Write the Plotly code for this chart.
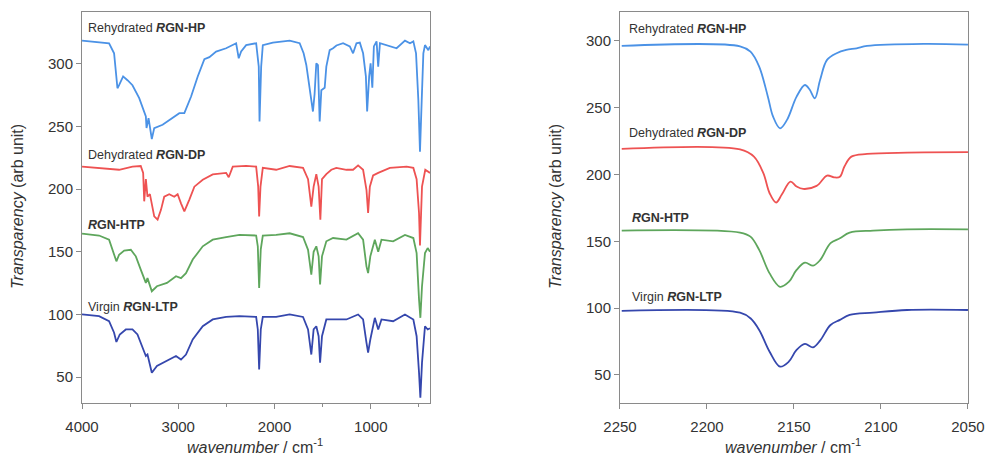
import plotly.graph_objects as go

# ---------------- Left panel data (full spectra) ----------------
hp_wn = [4000, 3719, 3667, 3632, 3615, 3573, 3528, 3476, 3406, 3337, 3330, 3309, 3275, 3250, 3163, 3059,
         2989, 2937, 2867, 2798, 2729, 2677, 2607, 2503, 2399, 2372, 2347, 2295, 2191, 2164, 2156, 2139,
         2122, 2018, 1843, 1739, 1698, 1670, 1618, 1601, 1584, 1566, 1549, 1531, 1514, 1479, 1462, 1427,
         1392, 1357, 1288, 1218, 1184, 1149, 1114, 1080, 1051, 1038, 1017, 1002, 984, 968, 940, 923, 905,
         836, 732, 645, 593, 558, 530, 506, 489, 471, 454, 437, 402, 385]
hp_val = [318.6, 316.5, 308.5, 280.6, 283, 290, 287, 283, 272.7, 258, 248.8, 256.7, 240, 248.8, 251.4, 256.7,
          260.7, 260.7, 274, 290, 303.7, 305.4, 309.8, 312.5, 316.5, 304.5, 310, 315, 316.5, 297.8, 254, 297.8,
          315, 317, 318.6, 316.5, 308.5, 299.2, 271.3, 262, 276, 300.5, 299, 254, 279, 281, 297.8, 311,
          312.5, 314.7, 316.5, 314, 308.5, 316.5, 317, 308.5, 290, 262, 290, 300.5, 281, 314, 318, 297.8, 316.5,
          315, 312.5, 318.6, 316.5, 318, 308.5, 271, 230, 271, 308.5, 315, 311, 314]

dp_wn = [4000, 3719, 3615, 3476, 3390, 3365, 3354, 3337, 3320, 3295, 3250, 3215, 3180, 3146, 3094, 3042,
         3007, 2972, 2937, 2885, 2833, 2746, 2642, 2503, 2476, 2434, 2295, 2191, 2170, 2160, 2146, 2122,
         1983, 1843, 1704, 1652, 1618, 1594, 1566, 1542, 1524, 1507, 1462, 1410, 1358, 1253, 1184, 1132,
         1080, 1045, 1028, 1010, 976, 923, 802, 628, 558, 524, 499, 489, 468, 434, 385]
dp_val = [218, 216, 215.5, 218, 218.5, 213, 190.3, 208, 194, 196, 178.3, 175.7, 183.5, 194, 196, 194,
          196, 188.7, 182.3, 191.7, 202, 207.5, 211.8, 213, 209.5, 218, 218.6, 218, 202, 178.3, 202, 217,
          215.5, 218.5, 217, 208, 186, 202, 212, 202, 175.7, 208, 212, 215.5, 217, 215.5, 215.5, 219,
          215.5, 199.5, 181, 202, 211, 213, 217, 218, 217, 208, 181, 155, 202, 215.5, 213]

htp_wn = [4000, 3823, 3719, 3667, 3643, 3615, 3562, 3493, 3441, 3390, 3337, 3320, 3275, 3222, 3118, 3024,
          2972, 2920, 2850, 2746, 2642, 2503, 2365, 2191, 2174, 2160, 2143, 2122, 1983, 1843, 1704, 1652,
          1618, 1594, 1566, 1542, 1527, 1507, 1462, 1392, 1253, 1132, 1080, 1045, 1028, 1005, 958, 923,
          889, 768, 645, 558, 524, 499, 485, 468, 437, 409, 385]
htp_val = [164.5, 163, 159.7, 149, 142.4, 147.7, 151, 151.6, 146.4, 135.8, 125.2, 129, 118.5, 122.5, 125.2, 130.5,
           129, 133, 143.8, 154.4, 159.7, 161.8, 163.5, 163, 154.4, 121.2, 152, 163, 163.5, 164.8, 161.8, 151.6,
           131.8, 150, 154.4, 146.4, 123.9, 146.4, 158.4, 161, 159.7, 164.8, 159.7, 138.4, 133, 146.4, 159.7, 150,
           159.7, 158.4, 163.5, 161, 149, 112, 97.3, 122.5, 149, 153, 150]

ltp_wn = [4000, 3823, 3719, 3667, 3643, 3608, 3545, 3476, 3424, 3372, 3337, 3320, 3275, 3222, 3118, 3024,
          2972, 2920, 2850, 2746, 2642, 2503, 2365, 2191, 2174, 2160, 2143, 2122, 1983, 1843, 1704, 1652,
          1618, 1594, 1566, 1542, 1527, 1507, 1462, 1392, 1253, 1132, 1080, 1045, 1028, 1005, 958, 923,
          889, 768, 645, 558, 524, 499, 485, 468, 437, 409, 385]
ltp_val = [100, 98.6, 94.6, 85.4, 78, 84, 88, 88, 84, 73.4, 66.8, 68, 53.5, 58.8, 62.8, 66.8,
           64, 68, 80, 90.6, 96, 98, 98.6, 98, 88, 56, 88, 98, 98, 100, 98, 88,
           68, 88, 90.6, 82.6, 61.5, 82.6, 96, 96, 96, 100, 96, 77.5, 69.5, 80, 97.3, 88,
           96, 94.6, 100, 96, 82.6, 53.5, 33.5, 61.5, 90.6, 88, 89]

# ---------------- Right panel data (C≡N region) ----------------
hp_z_wn = [2249, 2181, 2175, 2170, 2165, 2162, 2158, 2154, 2148.5, 2143.7, 2141, 2138, 2135, 2131, 2125.5,
           2120, 2114, 2108, 2075.6, 2050]
hp_z_val = [296.3, 296, 292, 280.8, 258.3, 243.3, 234.6, 240.9, 258.3, 267, 263.6, 257.1, 270.8, 285.8, 290.8,
            293.3, 294.5, 296.3, 297.8, 297.3]

dp_z_wn = [2249, 2181, 2173, 2167.6, 2164, 2160.3, 2157, 2152, 2148.5, 2144.7, 2137, 2131, 2127, 2123.6,
           2121, 2117, 2108, 2085, 2050]
dp_z_val = [219.2, 218.8, 213.4, 201, 186, 179, 185, 194.7, 191, 189.2, 191.5, 199.2, 197.9, 198.3,
            206, 213.4, 215.4, 216.4, 216.7]

htp_z_wn = [2249, 2181, 2175, 2170, 2164, 2158, 2153, 2148.5, 2143.7, 2139, 2135, 2129, 2123.6, 2118,
            2104.5, 2085, 2050]
htp_z_val = [158, 156.5, 153.5, 143.6, 126, 116, 119.6, 128.6, 134, 131.8, 135.9, 148.6, 152.3, 156.5,
             158, 159, 159]

ltp_z_wn = [2249, 2181, 2175, 2170, 2164, 2158, 2153, 2148.5, 2143.7, 2139, 2135, 2129, 2123.6, 2118,
            2104.5, 2085, 2050]
ltp_z_val = [97.9, 96.6, 92.4, 83.7, 67.4, 56.2, 59.9, 68.7, 73.2, 70.7, 75.7, 87.4, 91.2, 94.9,
             96.6, 98.6, 98.6]

labels = ["Rehydrated <b><i>R</i>GN-HP</b>", "Dehydrated <b><i>R</i>GN-DP</b>",
          "<b><i>R</i>GN-HTP</b>", "Virgin <b><i>R</i>GN-LTP</b>"]
colors = ["#4b92e6", "#ee5252", "#5ea65c", "#3547ad"]
left_label_y = [329, 227.5, 171.7, 105.8]
right_label_y = [308.8, 230.9, 167.3, 108]
right_label_x = [2245.8, 2245.8, 2244, 2244]

left_series = [(hp_wn, hp_val), (dp_wn, dp_val), (htp_wn, htp_val), (ltp_wn, ltp_val)]
right_series = [(hp_z_wn, hp_z_val), (dp_z_wn, dp_z_val), (htp_z_wn, htp_z_val), (ltp_z_wn, ltp_z_val)]

FONT = "Liberation Sans, Arial, sans-serif"
TXT = "#333333"

fig = go.Figure()
for (x, y), c in zip(left_series, colors):
    fig.add_trace(go.Scatter(x=x, y=y, mode="lines", line=dict(color=c, width=1.8),
                             xaxis="x", yaxis="y", showlegend=False))
for (x, y), c in zip(right_series, colors):
    fig.add_trace(go.Scatter(x=x, y=y, mode="lines", line=dict(color=c, width=1.8, shape="spline"),
                             xaxis="x2", yaxis="y2", showlegend=False))

axis_common = dict(showline=True, linecolor="#8a8a8a", linewidth=1, mirror=True, ticks="outside",
                   ticklen=5, tickcolor="#8a8a8a", showgrid=False, zeroline=False, automargin=False,
                   tickfont=dict(family=FONT, size=15, color=TXT))

fig.update_layout(
    width=986, height=459, margin=dict(l=0, r=0, t=0, b=0, autoexpand=False),
    paper_bgcolor="white", plot_bgcolor="white",
    xaxis=dict(domain=[0.0832, 0.4361], range=[4000, 385], tickvals=[4000, 3000, 2000, 1000],
               minor=dict(tickvals=[3500, 2500, 1500, 500], ticks="outside", ticklen=3, tickcolor="#8a8a8a"),
               anchor="y", ticklabelstandoff=5, **axis_common),
    yaxis=dict(domain=[0.122, 0.974], range=[29.3, 341.5], tickvals=[50, 100, 150, 200, 250, 300],
               anchor="x", **axis_common),
    xaxis2=dict(domain=[0.6288, 0.9817], range=[2250, 2050], tickvals=[2250, 2200, 2150, 2100, 2050],
                anchor="y2", ticklabelstandoff=5, **axis_common),
    yaxis2=dict(domain=[0.122, 0.974], range=[29, 321.7], tickvals=[50, 100, 150, 200, 250, 300],
                anchor="x2", **axis_common),
)

for lab, yv in zip(labels, left_label_y):
    fig.add_annotation(x=3958, y=yv, xref="x", yref="y", text=lab, showarrow=False, xanchor="left",
                       yanchor="middle", font=dict(family=FONT, size=12.5, color=TXT))
for lab, xv, yv in zip(labels, right_label_x, right_label_y):
    fig.add_annotation(x=xv, y=yv, xref="x2", yref="y2", text=lab, showarrow=False, xanchor="left",
                       yanchor="middle", font=dict(family=FONT, size=12.5, color=TXT))

ytitle = "<i>Transparency</i> (arb unit)"
xtitle = "<i>wavenumber</i> / cm<sup>-1</sup>"
for xp in [18 / 986, 556 / 986]:
    fig.add_annotation(x=xp, y=1 - 207 / 459, xref="paper", yref="paper", text=ytitle, textangle=-90,
                       showarrow=False, xanchor="center", yanchor="middle",
                       font=dict(family=FONT, size=16, color=TXT))
for xp in [255 / 986, 793 / 986]:
    fig.add_annotation(x=xp, y=1 - 446 / 459, xref="paper", yref="paper", text=xtitle,
                       showarrow=False, xanchor="center", yanchor="middle",
                       font=dict(family=FONT, size=16, color=TXT))

fig.write_html("out.html")
